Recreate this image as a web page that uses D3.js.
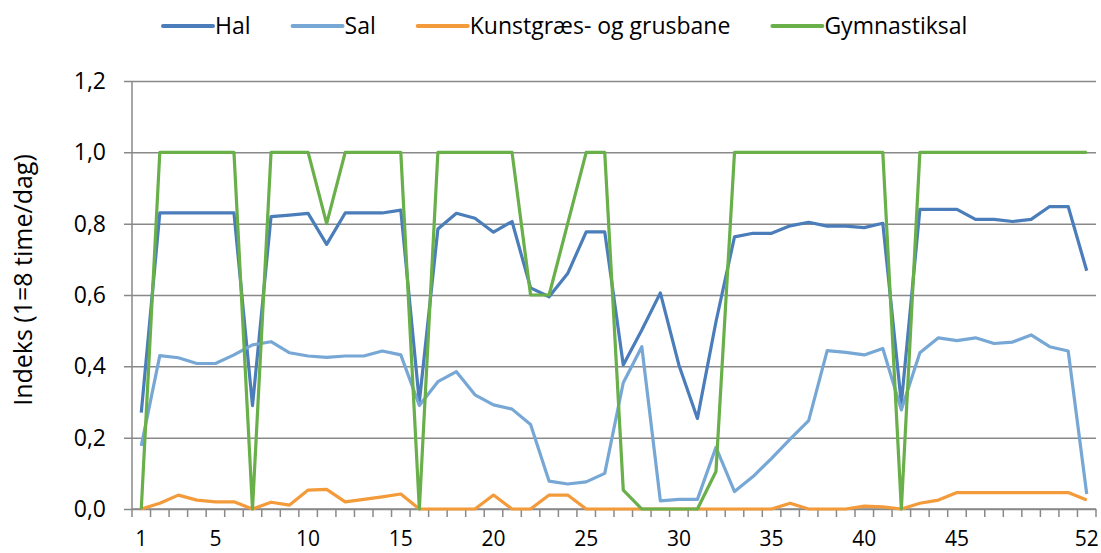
<!DOCTYPE html>
<html>
<head>
<meta charset="utf-8">
<script src="https://cdn.jsdelivr.net/npm/d3@7"></script>
<style>
  body { margin: 0; background: #fff; }
  svg text { font-family: "Open Sans", sans-serif; fill: #000; }
</style>
</head>
<body>
<div id="chart"></div>
<script>
// Weeks 1..52
var weeks = d3.range(1, 53);
var xLabels = [1, 5, 10, 15, 20, 25, 30, 35, 40, 45, 52];
var yTicks = [0, 0.2, 0.4, 0.6, 0.8, 1.0, 1.2];

var seriesNames = ["Hal", "Sal", "Kunstgræs- og grusbane", "Gymnastiksal"];

var hal = [0.27, 0.83, 0.83, 0.83, 0.83, 0.83, 0.29, 0.82, 0.824, 0.829, 0.742, 0.83, 0.83, 0.83, 0.838, 0.30,
  0.785, 0.829, 0.815, 0.776, 0.806, 0.62, 0.595, 0.66, 0.777, 0.777, 0.404, 0.502, 0.606, 0.404, 0.254, 0.525,
  0.763, 0.773, 0.773, 0.794, 0.804, 0.793, 0.793, 0.789, 0.801, 0.296, 0.84, 0.84, 0.84, 0.812, 0.812, 0.806,
  0.812, 0.848, 0.848, 0.668];

var sal = [0.177, 0.43, 0.424, 0.408, 0.408, 0.432, 0.46, 0.469, 0.438, 0.429, 0.425, 0.429, 0.429, 0.443, 0.432, 0.29,
  0.357, 0.385, 0.32, 0.292, 0.28, 0.237, 0.078, 0.07, 0.076, 0.1, 0.354, 0.455, 0.023, 0.027, 0.027, 0.173,
  0.049, 0.091, 0.142, 0.196, 0.248, 0.444, 0.439, 0.432, 0.45, 0.278, 0.438, 0.48, 0.472, 0.48, 0.464, 0.468,
  0.488, 0.455, 0.443, 0.042];

var kunst = [0, 0.016, 0.039, 0.025, 0.02, 0.02, 0, 0.019, 0.011, 0.053, 0.055, 0.02, 0.027, 0.034, 0.042, 0,
  0, 0, 0, 0.039, 0, 0, 0.039, 0.039, 0, 0, 0, 0, 0, 0, 0, 0,
  0, 0, 0, 0.016, 0, 0, 0, 0.008, 0.006, 0, 0.016, 0.025, 0.046, 0.046, 0.046, 0.046,
  0.046, 0.046, 0.046, 0.025];

var gym = [0, 1, 1, 1, 1, 1, 0, 1, 1, 1, 0.8, 1, 1, 1, 1, 0,
  1, 1, 1, 1, 1, 0.6, 0.6, 0.8, 1, 1, 0.053, 0, 0, 0, 0, 0.105,
  1, 1, 1, 1, 1, 1, 1, 1, 1, 0, 1, 1, 1, 1, 1, 1,
  1, 1, 1, 1];

var colors = ["#4a7dba", "#77a7d5", "#f39a3a", "#69af4a"];

var W = 1101, H = 553;
var margin = {top: 81, right: 5, bottom: 44, left: 132},
    width = W - margin.left - margin.right,
    height = H - margin.top - margin.bottom;

var svg = d3.select("#chart").append("svg")
    .attr("width", W)
    .attr("height", H);

var g = svg.append("g")
    .attr("transform", "translate(" + margin.left + "," + margin.top + ")");

var x = d3.scaleBand()
    .domain(weeks)
    .range([0, width])
    .padding(0);

var y = d3.scaleLinear()
    .domain([0, 1.2])
    .range([height, 0]);

var fmt = function(d) { return d3.format(".1f")(d).replace(".", ","); };

// horizontal gridlines + y axis
var yAxis = d3.axisLeft(y)
    .tickValues(yTicks)
    .tickFormat(fmt)
    .tickSizeInner(-width)
    .tickSizeOuter(0)
    .tickPadding(26);

var yG = g.append("g").call(yAxis);
yG.select(".domain").remove();
yG.selectAll(".tick line")
    .attr("x1", -8)
    .attr("stroke", "#898989")
    .attr("stroke-width", 1.5);
yG.selectAll(".tick text")
    .style("font-size", "23px");

g.append("line")
    .attr("x1", 0).attr("x2", 0)
    .attr("y1", 0).attr("y2", height)
    .attr("stroke", "#898989")
    .attr("stroke-width", 1.5);

// bottom axis: tick marks on the week boundaries, labels at selected weeks
var bounds = weeks.map(function(d) { return x(d); }).concat([width]);
g.append("line")
    .attr("x1", 0).attr("x2", width)
    .attr("y1", height).attr("y2", height)
    .attr("stroke", "#898989")
    .attr("stroke-width", 1.5);

g.selectAll(".xtick")
    .data(bounds)
    .enter().append("line")
    .attr("class", "xtick")
    .attr("x1", function(d) { return d; })
    .attr("x2", function(d) { return d; })
    .attr("y1", height)
    .attr("y2", height + 8)
    .attr("stroke", "#898989")
    .attr("stroke-width", 1.5);

g.selectAll(".xlabel")
    .data(xLabels)
    .enter().append("text")
    .attr("class", "xlabel")
    .attr("x", function(d) { return x(d) + x.bandwidth() / 2; })
    .attr("y", height + 37)
    .attr("text-anchor", "middle")
    .style("font-size", "21px")
    .text(function(d) { return d; });

// y title
g.append("text")
    .attr("text-anchor", "middle")
    .attr("transform", "translate(" + (-100) + "," + (height / 2 - 15) + ") rotate(-90)")
    .style("font-size", "25px")
    .text("Indeks (1=8 time/dag)");

// lines
var allSeries = [hal, sal, kunst, gym];
var line = d3.line()
    .x(function(d, i) { return x(weeks[i]) + x.bandwidth() / 2; })
    .y(function(d) { return y(d); });

g.selectAll(".series")
    .data(allSeries)
    .enter().append("path")
    .attr("class", "series")
    .attr("d", line)
    .attr("fill", "none")
    .attr("stroke", function(d, i) { return colors[i]; })
    .attr("stroke-width", 3.2)
    .attr("stroke-linejoin", "round");

// legend, laid out left to right
var legend = svg.append("g").attr("class", "legend");
var items = legend.selectAll(".item")
    .data(seriesNames)
    .enter().append("g")
    .attr("class", "item");

items.append("line")
    .attr("x1", 0).attr("x2", 50)
    .attr("y1", 0).attr("y2", 0)
    .attr("stroke", function(d, i) { return colors[i]; })
    .attr("stroke-width", 4)
    .attr("stroke-linecap", "round");

items.append("text")
    .attr("x", 52)
    .attr("y", 8)
    .style("font-size", "23px")
    .text(function(d) { return d; });

var pos = 0, offsets = [];
items.each(function() {
    offsets.push(pos);
    pos += 52 + this.querySelector("text").getComputedTextLength() + 42;
});
items.attr("transform", function(d, i) { return "translate(" + (163 + offsets[i]) + ",26)"; });
</script>
</body>
</html>
